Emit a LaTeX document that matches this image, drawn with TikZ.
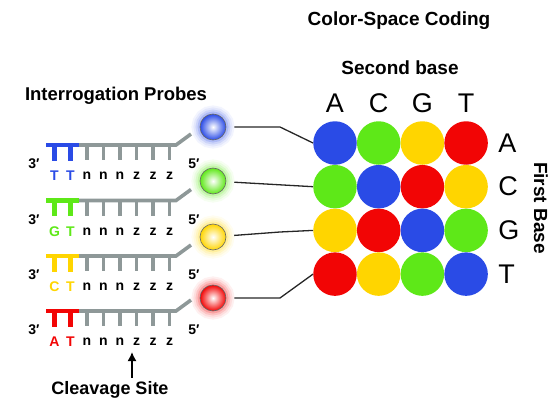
\documentclass[tikz,border=0pt]{standalone}
\usepackage{fontspec}
\setmainfont{Liberation Sans}
\usepackage{tikz}
\usetikzlibrary{arrows.meta,positioning}
\definecolor{spotblue}{HTML}{2A4BE6}
\definecolor{spotgreen}{HTML}{5EE818}
\definecolor{spotyellow}{HTML}{FFD500}
\definecolor{spotred}{HTML}{F20505}
\definecolor{strandgray}{HTML}{8E9898}

\begin{document}
\begin{tikzpicture}[x=1pt,y=-1pt,
  spot/.style={circle,inner sep=0pt,minimum size=43.5pt,fill=#1},
  probeball/.style={circle,inner sep=0pt,minimum size=26pt,draw=black!60,line width=0.6pt,
    inner color=white,outer color=#1,
    preaction={draw=#1,draw opacity=0.06,line width=17pt},
    preaction={draw=#1,draw opacity=0.08,line width=13pt},
    preaction={draw=#1,draw opacity=0.12,line width=9pt},
    preaction={draw=#1,draw opacity=0.18,line width=5pt}},
  strand/.style={draw=strandgray,line width=3.6pt},
  pair/.style={draw=#1,line width=4.6pt},
  headline/.style={font=\fontsize{19}{22}\selectfont\bfseries},
  baselabel/.style={font=\fontsize{27}{30}\selectfont,inner sep=0pt},
  nt/.style={font=\fontsize{14}{16}\selectfont\bfseries,inner sep=0pt},
  link/.style={draw=black!85,line width=1.3pt,shorten <=8pt},
  arrow/.style={-{Latex[length=9pt,width=9pt]},line width=1.5pt}
]
\useasboundingbox (0,0) rectangle (557,404);

\node[headline] (coding) at (399,21) {Color-Space Coding};
\node[headline] (second) at (400,68) {Second base};
\node[headline,font=\fontsize{18.5}{22}\selectfont\bfseries] (probes) at (116,96) {Interrogation Probes};

\foreach \c/\y/\by/\fb [count=\k] in {spotblue/145/127/T,spotgreen/200.5/181/G,spotyellow/256/237/C,spotred/311/298/A}{
  \draw[strand] (79,\y) -- (176,\y) -- ++(15,-11);
  \foreach \x in {87,103.5,...,170} \draw[strand] (\x,\y) -- ++(0,15);
  \draw[pair=\c] (46,\y) -- (79,\y) (54.5,\y) -- ++(0,15.5) (70.5,\y) -- ++(0,15.5);
  \node[nt] (three-\k) at (34,\y+19) {3′};
  \node[nt] (five-\k) at (194,\y+19) {5′};
  \node[nt,text=\c] (first-\k) at (54.5,\y+31) {\fb};
  \node[nt,text=\c] (second-\k) at (70.5,\y+31) {T};
  \foreach \l [count=\j] in {n,n,n,z,z,z} \node[nt] (nt-\k-\j) at (70.5+16.5*\j,\y+31) {\l};
  \node[probeball=\c] (ball\k) at (213,\by) {};
}

\foreach \row [count=\i] in {{spotblue,spotgreen,spotyellow,spotred},{spotgreen,spotblue,spotred,spotyellow},
    {spotyellow,spotred,spotblue,spotgreen},{spotred,spotyellow,spotgreen,spotblue}}
  \foreach \c [count=\j] in \row
    \node[spot=\c] (spot-\i-\j) at (291.3+43.7*\j,99.3+43.7*\i) {};

\foreach \l [count=\j] in {A,C,G,T}{
  \node[baselabel,above=8pt of spot-1-\j] (col-\l) {\l};
  \node[baselabel,right=10pt of spot-\j-4] (row-\l) {\l};
}
\node[headline,rotate=-90] (firstbase) at (541,208) {First Base};

\draw[link] (ball1) -- ++(67,0) -- (spot-1-1.west);
\draw[link] (ball2) -- (spot-2-1.west);
\draw[link] (ball3) -- ++(67,-5) -- (spot-3-1.west);
\draw[link] (ball4) -- ++(67,0) -- (spot-4-1.west);

\node[headline,font=\fontsize{18}{22}\selectfont\bfseries] (cleave) at (110,389.5) {Cleavage Site};
\coordinate (site) at (132,352);
\draw[arrow] ([xshift=22pt]cleave.north) -- (site);
\end{tikzpicture}
\end{document}
